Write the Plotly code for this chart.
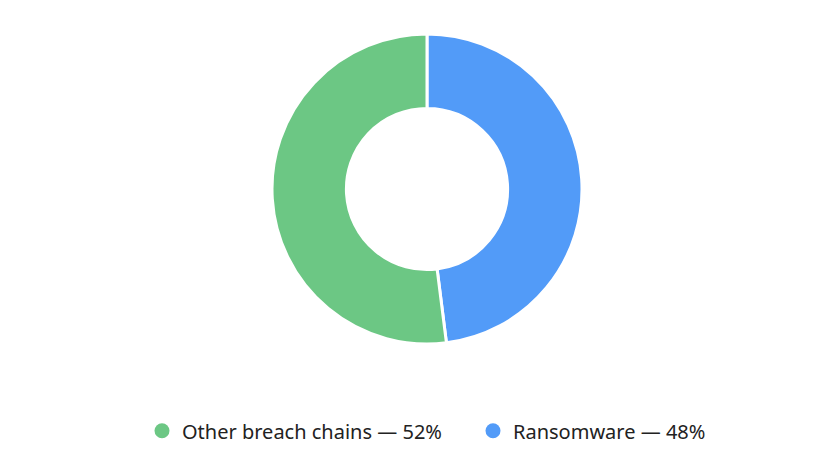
import plotly.graph_objects as go

labels = ["Other breach chains — 52%", "Ransomware — 48%"]
values = [52, 48]
colors = ["#6cc784", "#529bf8"]

fig = go.Figure()
# ransomware drawn first so it sits on the right, starting at 12 o'clock
fig.add_trace(go.Pie(
    labels=labels[::-1],
    values=values[::-1],
    hole=0.52,
    sort=False,
    direction="clockwise",
    marker=dict(colors=colors[::-1], line=dict(color="white", width=3)),
    textinfo="none",
    hoverinfo="label",
    showlegend=False,
    domain=dict(x=[(419 - 155) / 830, (419 + 155) / 830], y=[0, 1]),
))

# circle markers for the legend
for lab, col in zip(labels, colors):
    fig.add_trace(go.Scatter(
        x=[None], y=[None], mode="markers", name=lab,
        marker=dict(symbol="circle", size=15, color=col),
    ))

fig.update_xaxes(visible=False)
fig.update_yaxes(visible=False)
fig.update_layout(
    width=830, height=476,
    margin=dict(l=0, r=0, t=26, b=140),
    paper_bgcolor="white",
    plot_bgcolor="white",
    font=dict(family="Noto Sans, Open Sans, sans-serif", size=20, color="#222222"),
    legend=dict(orientation="h", x=134 / 830, xanchor="left",
                y=-0.28, yanchor="middle", itemclick=False,
                entrywidth=286, entrywidthmode="pixels",
                font=dict(size=20)),
)
fig.write_html("out.html")
